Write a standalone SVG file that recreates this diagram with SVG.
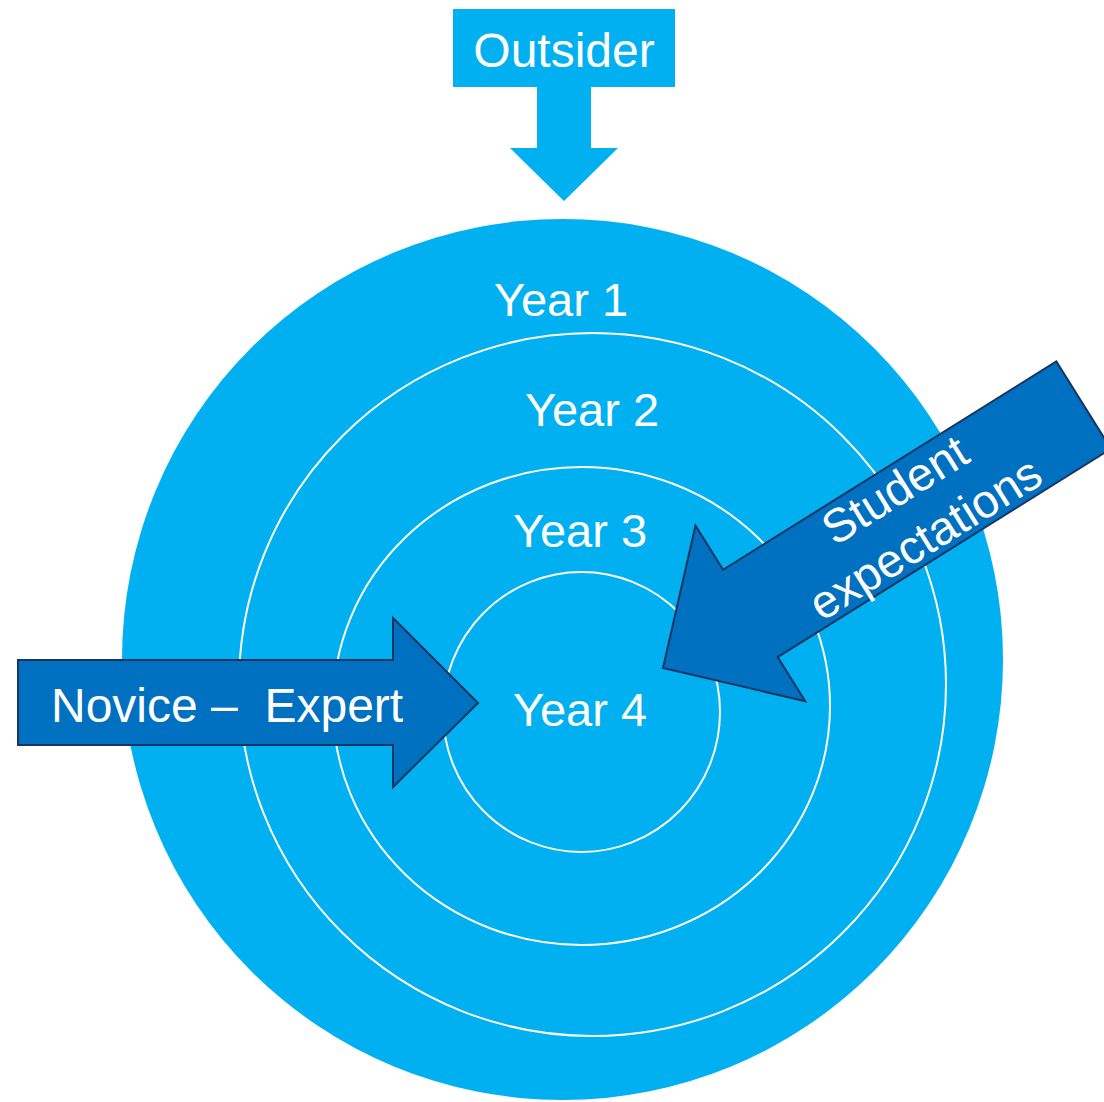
<svg xmlns="http://www.w3.org/2000/svg" width="1104" height="1102" viewBox="0 0 1104 1102">
  <style>
    .lbl { font-family: "Liberation Sans", Arial, sans-serif; fill: #FFFFFF; white-space: pre; }
    .ring { fill: none; stroke: #FFFFFF; stroke-width: 2; }
    .light { fill: #00B0F0; }
    .dark { fill: #0070C0; stroke: #1A3560; stroke-width: 2; stroke-linejoin: miter; }
  </style>
  <rect width="1104" height="1102" fill="#FFFFFF"/>
  <g id="rings">
    <g id="year1">
      <ellipse class="light" cx="562.5" cy="659.5" rx="440.5" ry="440.5"/>
      <text class="lbl" x="561" y="316" font-size="47" text-anchor="middle">Year 1</text>
    </g>
    <g id="year2">
      <ellipse class="ring" cx="592.5" cy="684.5" rx="353.5" ry="351.5"/>
      <text class="lbl" x="592" y="426" font-size="47" text-anchor="middle">Year 2</text>
    </g>
    <g id="year3">
      <ellipse class="ring" cx="581.5" cy="706" rx="248.5" ry="239"/>
      <text class="lbl" x="580" y="547" font-size="47" text-anchor="middle">Year 3</text>
    </g>
    <g id="year4">
      <ellipse class="ring" cx="581.5" cy="712" rx="138.5" ry="140"/>
      <text class="lbl" x="580" y="726" font-size="47" text-anchor="middle">Year 4</text>
    </g>
  </g>
  <g id="connectors">
    <g id="outsider">
      <rect class="light" x="453" y="9" width="222" height="78"/>
      <polygon class="light" points="537,86 591,86 591,148 618,148 564,201 510,148 537,148"/>
      <text class="lbl" x="564" y="67" font-size="48" text-anchor="middle">Outsider</text>
    </g>
    <g id="novice-expert">
      <polygon class="dark" points="18,660 393,660 393,618 478,703 393,787 393,745 18,745"/>
      <text class="lbl" x="51" y="722" font-size="48">Novice –  Expert</text>
    </g>
    <g id="student-expectations" transform="translate(663,668) rotate(-32)">
      <polygon class="dark" points="0,0 103,-103.5 103,-51.5 496,-51.5 496,51.5 103,51.5 103,103.5"/>
      <text class="lbl" x="291" y="-12" font-size="47" text-anchor="middle">Student</text>
      <text class="lbl" x="291" y="45" font-size="47" text-anchor="middle">expectations</text>
    </g>
  </g>
</svg>
